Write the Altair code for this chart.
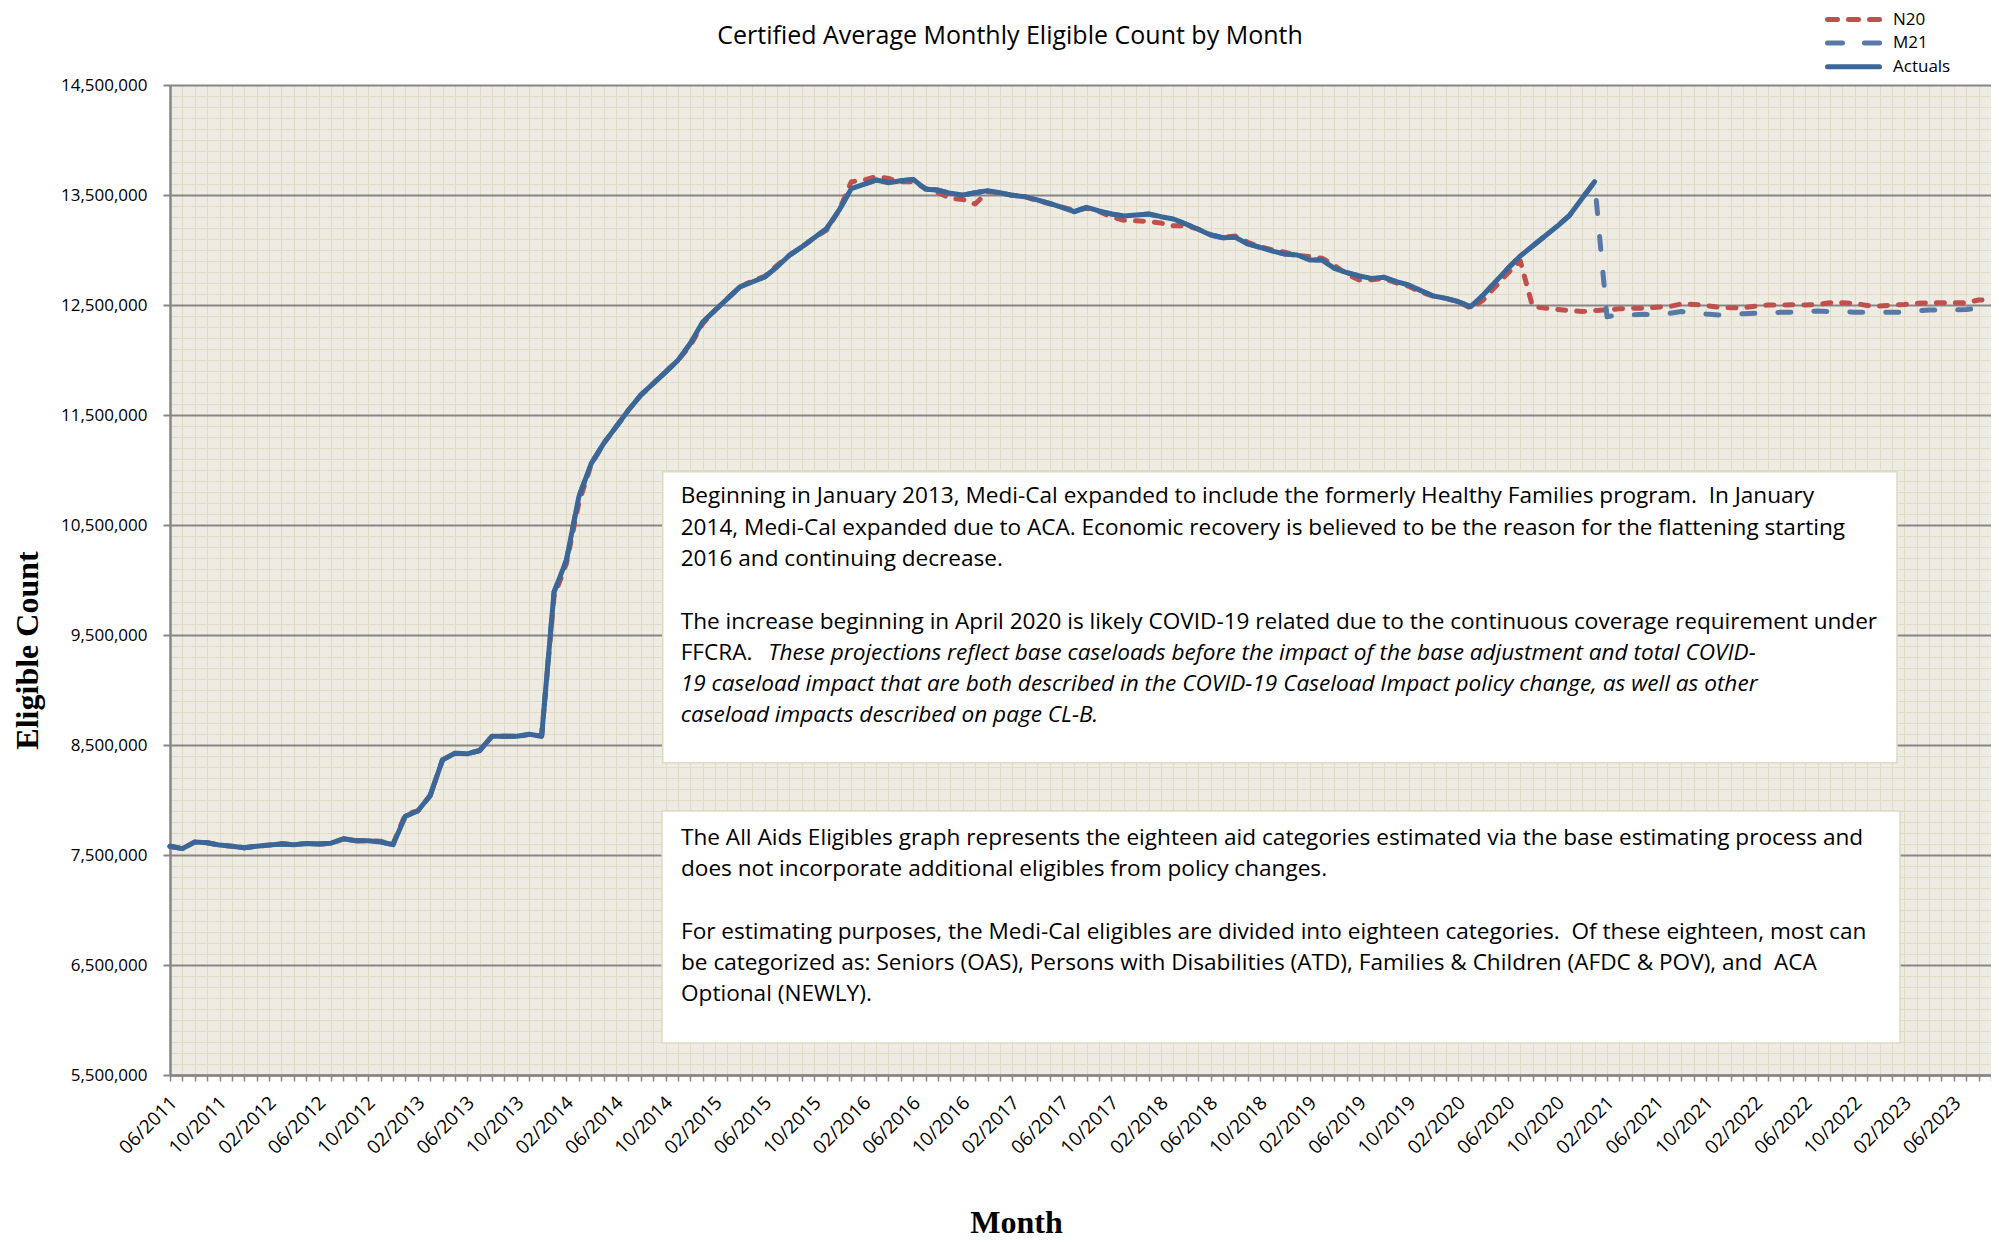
import altair as alt
import pandas as pd

# ---------------- data (values in millions) ----------------
months = [f"{(5 + i) % 12 + 1:02d}/{2011 + (5 + i) // 12}" for i in range(148)]  # 06/2011 .. 09/2023

actuals = [
    7.58, 7.558, 7.618, 7.612, 7.59, 7.58, 7.565, 7.58, 7.59, 7.60,
    7.593, 7.605, 7.60, 7.607, 7.647, 7.63, 7.63, 7.618, 7.594, 7.852,
    7.90, 8.04, 8.365, 8.425, 8.42, 8.45, 8.58, 8.58, 8.58, 8.597,
    8.58, 9.89, 10.18, 10.755, 11.058, 11.24, 11.39, 11.543, 11.68, 11.785,
    11.89, 11.997, 12.149, 12.345, 12.452, 12.558, 12.664, 12.709, 12.755, 12.845,
    12.952, 13.027, 13.112, 13.194, 13.36, 13.558, 13.597, 13.636, 13.612, 13.63,
    13.642, 13.552, 13.545, 13.515, 13.50, 13.52, 13.54, 13.52, 13.497, 13.485,
    13.455, 13.424, 13.388, 13.348, 13.388, 13.355, 13.327, 13.309, 13.318, 13.327,
    13.303, 13.282, 13.236, 13.188, 13.136, 13.112, 13.115, 13.055, 13.024, 12.99,
    12.964, 12.955, 12.909, 12.909, 12.833, 12.794, 12.764, 12.742, 12.752, 12.712,
    12.682, 12.63, 12.582, 12.56, 12.53, 12.485, 12.59, 12.712, 12.833, 12.945,
    13.036, 13.127, 13.218, 13.318, 13.47, 13.621,
]

n20_history = [
    7.58, 7.558, 7.618, 7.612, 7.59, 7.58, 7.565, 7.58, 7.59, 7.605,
    7.593, 7.605, 7.60, 7.607, 7.647, 7.63, 7.63, 7.625, 7.60, 7.87,
    7.90, 8.04, 8.365, 8.425, 8.42, 8.45, 8.58, 8.58, 8.575, 8.597,
    8.585, 9.85, 10.15, 10.70, 11.05, 11.24, 11.39, 11.543, 11.68, 11.785,
    11.89, 11.997, 12.13, 12.33, 12.452, 12.558, 12.664, 12.72, 12.76, 12.86,
    12.952, 13.027, 13.112, 13.18, 13.36, 13.62, 13.635, 13.667, 13.65, 13.62,
    13.62, 13.56, 13.52, 13.47, 13.46, 13.418, 13.53, 13.52, 13.497, 13.485,
    13.45, 13.42, 13.39, 13.36, 13.38, 13.35, 13.30, 13.27, 13.265, 13.26,
    13.245, 13.22, 13.22, 13.19, 13.14, 13.115, 13.127, 13.07, 13.03, 13.00,
    12.98, 12.95, 12.94, 12.925, 12.86, 12.78, 12.727, 12.73, 12.74, 12.70,
    12.67, 12.615, 12.58, 12.56, 12.53, 12.47, 12.545, 12.667, 12.79, 12.90,
]
n20_forecast = [
    12.485, 12.472, 12.46, 12.45, 12.44, 12.45, 12.455, 12.466, 12.47, 12.472,
    12.48, 12.485, 12.51, 12.505, 12.495, 12.48, 12.475, 12.475, 12.49, 12.50,
    12.50, 12.503, 12.50, 12.505, 12.52, 12.52, 12.515, 12.495, 12.49, 12.50,
    12.505, 12.515, 12.52, 12.52, 12.52, 12.52, 12.545, 12.55,
]
m21_forecast = [
    12.394, 12.41, 12.41, 12.415, 12.41, 12.424, 12.44, 12.43, 12.418, 12.41,
    12.415, 12.42, 12.425, 12.43, 12.433, 12.435, 12.44, 12.445, 12.44, 12.437,
    12.435, 12.433, 12.433, 12.433, 12.435, 12.445, 12.455, 12.455, 12.455, 12.46,
    12.47, 12.48,
]

n20 = n20_history + n20_forecast
m21 = actuals + m21_forecast

y_ticks = list(range(5_500_000, 14_500_001, 100_000))

series_names = ["N20", "M21", "Actuals"]
series_colors = ["#C0504D", "#5878A8", "#3A6698"]

title_text = "Certified Average Monthly Eligible Count by Month"

box1_para1 = [
    "Beginning in January 2013, Medi-Cal expanded to include the formerly Healthy Families program.  In January",
    "2014, Medi-Cal expanded due to ACA. Economic recovery is believed to be the reason for the flattening starting",
    "2016 and continuing decrease.",
]
box1_para2 = [
    "The increase beginning in April 2020 is likely COVID-19 related due to the continuous coverage requirement under",
    "FFCRA.",
]
box1_italic_first = "These projections reflect base caseloads before the impact of the base adjustment and total COVID-"
box1_italic_rest = [
    "19 caseload impact that are both described in the COVID-19 Caseload Impact policy change, as well as other",
    "caseload impacts described on page CL-B.",
]
box2_para1 = [
    "The All Aids Eligibles graph represents the eighteen aid categories estimated via the base estimating process and",
    "does not incorporate additional eligibles from policy changes.",
]
box2_para2 = [
    "For estimating purposes, the Medi-Cal eligibles are divided into eighteen categories.  Of these eighteen, most can",
    "be categorized as: Seniors (OAS), Persons with Disabilities (ATD), Families & Children (AFDC & POV), and  ACA",
    "Optional (NEWLY).",
]


def svg_safe(line):
    # keep double spaces visible in SVG text
    return line.replace("  ", " \u00a0")


def frame(vals):
    return pd.DataFrame({"month": months[: len(vals)], "value": [v * 1_000_000 for v in vals]})


df_n20, df_m21, df_act = frame(n20), frame(m21), frame(actuals)

# ---------------- styling ----------------
FONT = "Open Sans"
W, H = 1821, 990
MAJOR = "(datum.value - 5500000) % 1000000 == 0"
LW = 5
LH = 31.3
TS = 22.6

x_enc = alt.X(
    "month:O",
    scale=alt.Scale(type="point", domain=months, padding=0),
    axis=alt.Axis(
        title="Month", titleFont="Liberation Serif", titleFontSize=32, titleFontWeight="bold",
        titleColor="black", titleX=846, titleY=157, titleBaseline="alphabetic", titleAlign="center",
        labelExpr="indexof(['02','06','10'], slice(datum.value, 0, 2)) >= 0 ? datum.value : ''",
        labelAngle=-45, labelAlign="right", labelBaseline="top", labelFont=FONT, labelFontSize=19,
        labelColor="black", labelOverlap=False, labelPadding=12, labelOffset=-3,
        tickSize=6, tickColor="#868686", tickWidth=1.5,
        domainColor="#868686", domainWidth=2.5,
        grid=True, gridColor="#DFDBC6", gridWidth=1,
    ),
)
y_enc = alt.Y(
    "value:Q",
    scale=alt.Scale(domain=[5_500_000, 14_500_000], nice=False, zero=False),
    axis=alt.Axis(
        values=y_ticks, format=",d",
        labelExpr=f"{MAJOR} ? datum.label : ''",
        labelFont=FONT, labelFontSize=17, labelColor="black", labelPadding=16, labelOverlap=False,
        tickSize=7, tickWidth=2,
        tickColor={"condition": {"test": MAJOR, "value": "#868686"}, "value": "transparent"},
        grid=True,
        gridColor={"condition": {"test": MAJOR, "value": "#868686"}, "value": "#DFDBC6"},
        gridWidth={"condition": {"test": MAJOR, "value": 2}, "value": 1},
        domainColor="#868686", domainWidth=2.5,
        title="Eligible Count", titleFont="Liberation Serif", titleFontSize=32, titleFontWeight="bold",
        titleColor="black", titleX=-133, titleY=565, titleAngle=270, titleBaseline="alphabetic",
        titleAlign="center",
    ),
)

line_n20 = alt.Chart(df_n20).mark_line(
    color=series_colors[0], strokeWidth=LW, strokeDash=[8, 11], strokeCap="round", strokeJoin="round"
).encode(x=x_enc, y=y_enc)
line_m21 = alt.Chart(df_m21).mark_line(
    color=series_colors[1], strokeWidth=LW, strokeDash=[13, 23], strokeCap="round", strokeJoin="round"
).encode(x=x_enc, y=y_enc)
line_act = alt.Chart(df_act).mark_line(
    color=series_colors[2], strokeWidth=LW, strokeCap="round", strokeJoin="round"
).encode(x=x_enc, y=y_enc)

one = alt.Data(values=[{"k": 0}])


def box(x1, x2, y1, y2):
    return alt.Chart(one).mark_rect(fill="white", stroke="#DDD9C3", strokeWidth=1.5).encode(
        x=alt.value(x1), x2=alt.value(x2), y=alt.value(y1), y2=alt.value(y2)
    )


def text(lines, x, y, italic=False, size=TS, **kw):
    if isinstance(lines, list):
        lines = [svg_safe(s) for s in lines]
    else:
        lines = svg_safe(lines)
    return alt.Chart(one).mark_text(
        font=FONT, fontSize=size, lineHeight=LH,
        fontStyle="italic" if italic else "normal", color="black",
        **({"align": "left", "baseline": "alphabetic"} | kw),
    ).encode(x=alt.value(x), y=alt.value(y), text=alt.value(lines))


box1 = box(492.7, 1727, 386.7, 677.7)
box2 = box(492, 1730, 726, 958)
b1y = 418.3
texts = [
    text(box1_para1, 510.7, b1y),
    text(box1_para2, 510.7, b1y + 4 * LH),
    text(box1_italic_first, 598.3, b1y + 5 * LH, italic=True),
    text(box1_italic_rest, 510.7, b1y + 6 * LH, italic=True),
    text(box2_para1, 511, 760),
    text(box2_para2, 511, 760 + 3 * LH),
    text(title_text, 840, -49, size=25, align="center", baseline="middle"),
]

# legend (top right)
legend_layers = []
leg_dash = [[10, 11], [15, 22], [1, 0]]
leg_y = [-65.5, -42, -18.3]
for name, col, dash, yy in zip(series_names, series_colors, leg_dash, leg_y):
    legend_layers.append(
        alt.Chart(one).mark_rule(strokeWidth=LW, strokeCap="round", color=col, strokeDash=dash).encode(
            x=alt.value(1657.5), x2=alt.value(1709.5), y=alt.value(yy), y2=alt.value(yy)
        )
    )
    legend_layers.append(
        alt.Chart(one).mark_text(align="left", baseline="middle", font=FONT, fontSize=17, color="black").encode(
            x=alt.value(1723), y=alt.value(yy), text=alt.value(name)
        )
    )

chart = alt.layer(
    line_n20, line_m21, line_act, box1, box2, *texts, *legend_layers
).properties(
    width=W, height=H,
    autosize=alt.AutoSizeParams(type="none"),
    padding={"left": 162, "top": 77, "right": 0, "bottom": 164},
    background="white",
).configure_view(fill="#EEECE2", stroke=None)

chart.save("out.html", embed_options={"renderer": "svg", "actions": False})
